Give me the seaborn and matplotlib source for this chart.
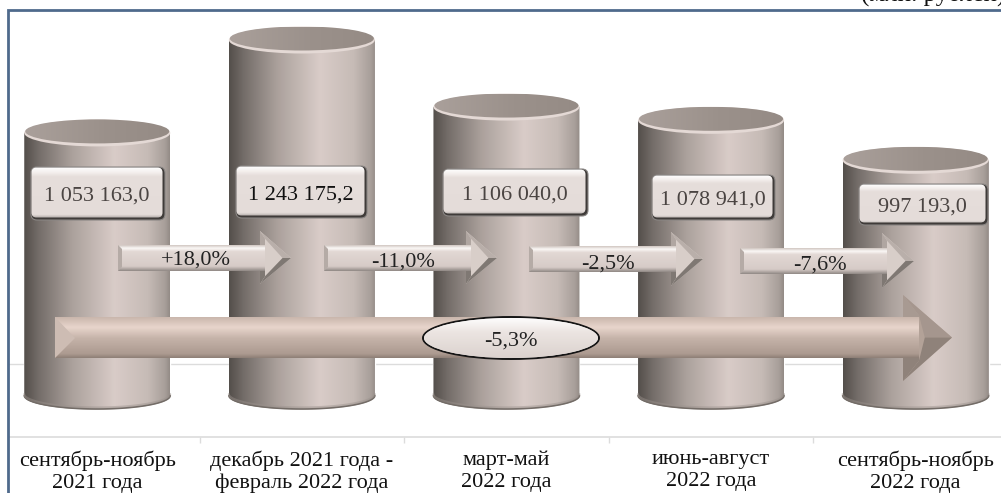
import matplotlib
matplotlib.use('Agg')
import matplotlib.pyplot as plt
from matplotlib.colors import LinearSegmentedColormap
from matplotlib.patches import Ellipse, FancyBboxPatch, Polygon, PathPatch, Rectangle
from matplotlib.path import Path
import numpy as np
import seaborn as sns

# data
periods = ['сентябрь-ноябрь\n2021 года', 'декабрь 2021 года -\nфевраль 2022 года',
           'март-май\n2022 года', 'июнь-август\n2022 года', 'сентябрь-ноябрь\n2022 года']
values = [1053163.0, 1243175.2, 1106040.0, 1078941.0, 997193.0]
value_labels = ['1 053 163,0', '1 243 175,2', '1 106 040,0', '1 078 941,0', '997 193,0']
changes = ['+18,0%', '-11,0%', '-2,5%', '-7,6%']
total_change = '-5,3%'
unit_label = '(млн. рублей)'

# value axis, the cylinders stand on a cut base above the axis line
base_value = 515000
grid_value = 580000
axis_value = 431000
W, H = 1001, 493

# layout in pixels of the picture
box_rects = [(31, 167, 165, 220), (236, 166, 367, 218), (443, 169, 588, 216),
             (652, 175, 775, 220), (859, 184, 988, 225)]
box_colors = ['#4a4442', '#111111', '#4a4442', '#4a4442', '#4a4442']
arrow_rects = [(118, 291, 260, 245, 271, 231, 284), (324, 497, 466, 245, 271, 231, 284),
               (529, 703, 671, 246, 272, 232, 286), (740, 914, 882, 248, 274, 233, 288)]
change_pos = [(196, 260), (403, 262), (608, 264), (820, 265)]

sns.set_theme(style='white')
plt.rcParams['font.family'] = ['Liberation Serif', 'DejaVu Serif']

fig = plt.figure(figsize=(W / 100, H / 100), dpi=100)
ax = fig.add_axes([0, 0, 1, 1])
sns.barplot(x=periods, y=values, color='#a89e9a', width=146 / 204.6, ax=ax, zorder=2)

# pixel x = 97.25 + 204.6 * category, pixel y = 40 + 0.489e-3 * (1243175 - value)
ax.set_xlim(-97.25 / 204.6, (W - 97.25) / 204.6)
ax.set_ylim(1243175.2 - (H - 40) / 0.000489, 1243175.2 + 40 / 0.000489)
for bar in ax.patches:
    bar.set_height(bar.get_height() - base_value)
    bar.set_y(base_value)

for side in ['top', 'left', 'right']:
    ax.spines[side].set_visible(False)
ax.spines['bottom'].set_position(('data', axis_value))
ax.spines['bottom'].set_color('#dcdcdc')
ax.spines['bottom'].set_linewidth(1.2)
ax.axhline(grid_value, color='#dcdcdc', lw=1.0, zorder=1)
ax.set_yticks([])
ax.set_xticks(np.arange(5))
ax.set_xticklabels(periods, fontsize=16, color='#111111', linespacing=1.2)
ax.set_xticks(np.arange(5)[:-1] + 0.5, minor=True)
ax.tick_params(axis='x', which='major', length=0, pad=9.5)
ax.tick_params(axis='x', which='minor', length=4, width=1, color='#dcdcdc', bottom=True)
ax.patch.set_alpha(0)

# second axes in pixels, used for the 3d look of bars, labels and arrows
ov = fig.add_axes([0, 0, 1, 1], zorder=5)
ov.patch.set_alpha(0)
ov.axis('off')


def gradient(stops, extent, clip, vertical=False, z=2):
    cmap = LinearSegmentedColormap.from_list('g', stops)
    g = np.linspace(0, 1, 256)
    g = g[:, None] if vertical else g[None, :]
    im = ov.imshow(g, cmap=cmap, extent=extent, aspect='auto', origin='upper',
                   interpolation='bilinear', zorder=z)
    clip.set_transform(ov.transData)
    im.set_clip_path(clip)


body_stops = [(0, '#544f4b'), (0.1, '#746d69'), (0.33, '#aba19c'), (0.62, '#d9ccc8'),
              (0.85, '#c6bbb6'), (0.97, '#a79e99'), (1, '#938b86')]
cap_stops = [(0, '#aaa09b'), (0.55, '#9b918b'), (1, '#958b85')]
box_stops = [(0, '#ffffff'), (0.1, '#f4efed'), (0.18, '#e6dedb'), (0.9, '#e4dcd9'), (1, '#8d8885')]


def cylinder(bar):
    (x0, top), (x1, bottom) = ax.transData.transform(
        [(bar.get_x(), bar.get_y() + bar.get_height()), (bar.get_x() + bar.get_width(), bar.get_y())])
    y0, y1 = H - top, H - bottom
    xc, rx, ry = (x0 + x1) / 2, (x1 - x0) / 2, 13.5
    t = np.linspace(np.pi, 0, 60)
    arc_x, arc_y = xc + rx * np.cos(t), y1 + ry * np.sin(t)
    pts = np.vstack([[x0, y0], np.c_[arc_x, arc_y], [x1, y0], [x0, y0]])
    gradient(body_stops, (x0, x1, y1 + ry, y0 - ry), PathPatch(Path(pts), fc='none', ec='none'))
    # dark bottom rim
    ov.plot(arc_x, arc_y - 0.6, color='#736c67', lw=1.2, zorder=3, solid_capstyle='round')
    ov.plot(arc_x, arc_y - 2.2, color='#9a918c', lw=1.4, zorder=3, alpha=0.45)
    # top cap: light rim and the darker lid
    ov.add_patch(Ellipse((xc, y0), 2 * rx, 2 * ry, fc='#e4d9d5', ec='none', zorder=3))
    lid = Ellipse((xc, y0 - 1.5), 2 * rx - 2, 2 * ry - 3, fc='none', ec='none')
    ov.add_patch(lid)
    gradient(cap_stops, (x0, x1, y0 + ry, y0 - ry), lid, z=4)


def value_box(rect, text, color):
    x0, y0, x1, y1 = rect
    # shadow edge on the lower right, then the face
    ov.add_patch(FancyBboxPatch((x0 + 5, y0 + 5), x1 - x0 - 10, y1 - y0 - 10,
                                boxstyle='round,pad=5,rounding_size=6', fc='#3f3b39', ec='#8a8684',
                                lw=0.8, zorder=6))
    face = FancyBboxPatch((x0 + 5, y0 + 5), x1 - x0 - 12, y1 - y0 - 12,
                          boxstyle='round,pad=4.5,rounding_size=5', fc='none', ec='none')
    ov.add_patch(face)
    gradient(box_stops, (x0, x1, y1, y0), face, vertical=True, z=7)
    ov.text((x0 + x1) / 2 - 1, (y0 + y1) / 2 + 3, text, ha='center', va='center',
            fontsize=16, color=color, zorder=8)


def arrow(rect, stops, head, top_col, low_col, left_col, bevel, z=9):
    x0, x1, xb, yt, yb, ht, hb = rect
    ym = (yt + yb) / 2
    # head first, shaft on top of it
    ov.add_patch(Polygon([(xb, ht), (x1, ym), (xb, hb)], fc=head, ec='none', zorder=z))
    shaft = Polygon([(x0, yt), (xb + bevel, yt), (xb + bevel, yb), (x0, yb)], fc='none', ec='none')
    ov.add_patch(shaft)
    gradient(stops, (x0, xb + bevel, yb, yt), shaft, vertical=True, z=z + 0.1)
    # bevel of the head
    ia = (xb + bevel, ht + 1.15 * bevel + 2)
    ib = (xb + bevel, hb - 1.15 * bevel - 2)
    it = (x1 - 1.7 * bevel, ym)
    ov.add_patch(Polygon([(xb, ht), (x1, ym), it, ia], fc=top_col, ec='none', zorder=z + 0.2))
    ov.add_patch(Polygon([(xb, hb), (x1, ym), it, ib], fc=low_col, ec='none', zorder=z + 0.2))
    ov.add_patch(Polygon([(xb, ht), ia, (xb + bevel, yt), (xb, yt)], fc=left_col, ec='none', zorder=z + 0.2))
    ov.add_patch(Polygon([(xb, hb), ib, (xb + bevel, yb), (xb, yb)], fc=low_col, ec='none', zorder=z + 0.2))


for bar in ax.patches:
    cylinder(bar)
for rect, text, color in zip(box_rects, value_labels, box_colors):
    value_box(rect, text, color)

# small arrows between the periods
small_stops = [(0, '#cfc5c0'), (0.12, '#fbf8f6'), (0.25, '#e2d8d4'), (0.82, '#d6cbc7'), (1, '#8f8783')]
for rect, text, pos in zip(arrow_rects, changes, change_pos):
    arrow(rect, small_stops, '#d8cec9', '#b9afaa', '#7f7873', '#b0a6a1', 5)
    x0, yt, yb = rect[0], rect[3], rect[4]
    ov.add_patch(Polygon([(x0, yt), (x0 + 4, yt + 4), (x0 + 4, yb - 4), (x0, yb)], fc='#b5aba6', ec='none', zorder=9.3))
    ov.text(pos[0], pos[1], text, ha='center', va='center', fontsize=16, color='#222222', zorder=11)

# long arrow over the whole year
big_stops = [(0, '#c9b6ac'), (0.25, '#e8d5cc'), (0.52, '#c5b3a9'), (0.9, '#ac9a90'), (1, '#8d7e75')]
big_rect = (55, 952, 903, 317, 358, 295, 381)
arrow(big_rect, big_stops, '#b3a298', '#a5968e', '#8f827a', '#a89a92', 16, z=12)
ov.add_patch(Polygon([(55, 317), (75, 338), (55, 358)], fc='#cdbcb3', ec='none', zorder=12.3))

# ellipse with the total change
oval_edge = Ellipse((511, 338), 176, 42, fc='#f2ecea', ec='#151515', lw=1.4, zorder=13)
ov.add_patch(oval_edge)
oval = Ellipse((511, 338), 174, 40, fc='none', ec='none')
ov.add_patch(oval)
gradient([(0, '#ffffff'), (0.35, '#ece5e2'), (1, '#dad1cd')], (423, 599, 359, 317), oval, vertical=True, z=13.5)
ov.text(511, 341, total_change, ha='center', va='center', fontsize=16, color='#222222', zorder=14)

# frame of the inserted picture and the unit line cut off above it
ov.add_patch(Rectangle((0, 0), 8, H, fc='white', ec='none', zorder=14.5))
ov.plot([8, 8, W], [H, 10, 10], color='#4f6a8c', lw=2, zorder=15, solid_joinstyle='miter')
ov.text(861, 0.5, unit_label, ha='left', va='baseline', fontsize=18, color='#111111', zorder=15)

ov.set_xlim(0, W)
ov.set_ylim(H, 0)
fig.savefig('out.png', dpi=100)
